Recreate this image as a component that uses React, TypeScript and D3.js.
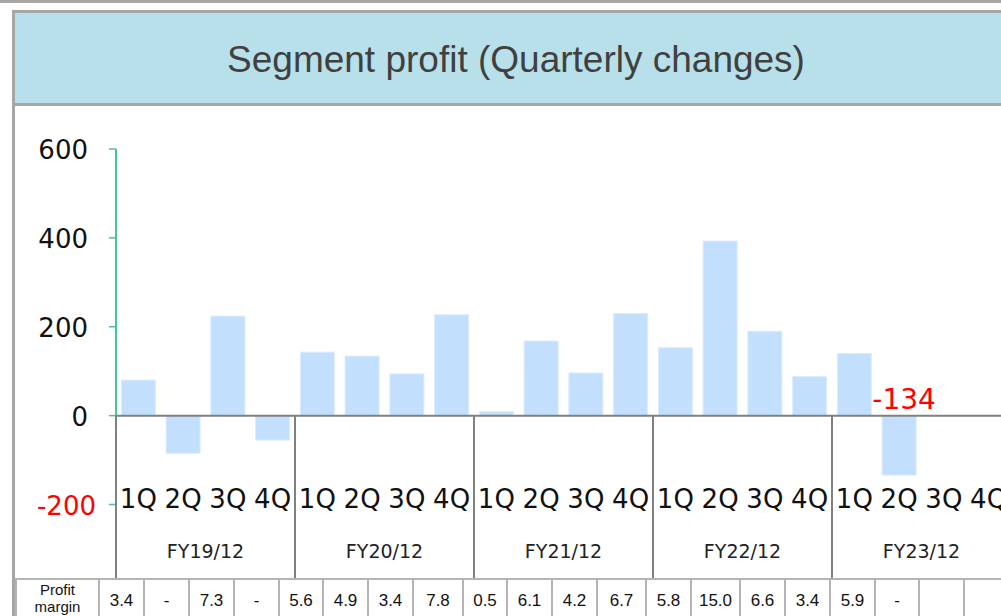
import React from "react";
import * as d3 from "d3";

// ---- data ----
const fiscalYears = ["FY19/12", "FY20/12", "FY21/12", "FY22/12", "FY23/12"];
const quarters = ["1Q", "2Q", "3Q", "4Q"];
const fy19 = [80, -85, 224, -55];
const fy20 = [143, 134, 94, 227];
const fy21 = [9, 168, 96, 230];
const fy22 = [153, 393, 190, 88];
const fy23 = [140, -134, null, null];
const seriesByYear = [fy19, fy20, fy21, fy22, fy23];
const yTicks = [600, 400, 200, 0, -200];
const marginLabel = ["Profit", "margin"];
const profitMargins = ["3.4", "-", "7.3", "-", "5.6", "4.9", "3.4", "7.8", "0.5", "6.1", "4.2", "6.7", "5.8", "15.0", "6.6", "3.4", "5.9", "-", "", ""];
const callout = { year: "FY23/12", quarter: "2Q", value: -134 };

// ---- layout ----
const W = 1001;
const H = 616;
const plotLeft = 116;
const groupW = 179;
const yTop = 149;
const yBottom = 504.5;
const tableTop = 578;
const tableColWidths = [83, 45, 45, 45, 45, 44, 45, 45, 50, 44, 45, 45, 49, 45, 49, 45, 45, 45, 44, 45, 45];
const tableLeft = 16;

const GRAY = "#a6a6a6";
const DARK_GRAY = "#808080";
const TEAL = "#46c3a0";
const BAR = "#c2e0fd";

export default function App() {
  const keys: string[] = [];
  const rows: { key: string; year: string; q: string; v: number | null }[] = [];
  fiscalYears.forEach((fy, i) => {
    quarters.forEach((q, j) => {
      const key = fy + "|" + q;
      keys.push(key);
      rows.push({ key, year: fy, q, v: seriesByYear[i][j] });
    });
  });

  const x = d3
    .scaleBand<string>()
    .domain(keys)
    .range([plotLeft, plotLeft + groupW * fiscalYears.length])
    .paddingInner(0.24)
    .paddingOuter(0.12);
  const yearX = d3
    .scaleBand<string>()
    .domain(fiscalYears)
    .range([plotLeft, plotLeft + groupW * fiscalYears.length]);
  const y = d3.scaleLinear().domain([-200, 600]).range([yBottom, yTop]);

  const cumul: number[] = [tableLeft];
  tableColWidths.forEach((w) => cumul.push(cumul[cumul.length - 1] + w));

  const y0 = y(0);
  const calloutRow = rows.find((r) => r.year === callout.year && r.q === callout.quarter)!;

  return (
    <div style={{ position: "fixed", left: 0, top: 0, width: W, height: H, overflow: "hidden", background: "#fff" }}>
      <svg width={W} height={H} style={{ display: "block" }}>
        <rect x={0} y={0} width={W} height={H} fill="#fff" />
        {/* top band */}
        <rect x={0} y={0} width={W} height={3} fill={GRAY} />
        {/* title box */}
        <rect x={13.5} y={11.5} width={W + 20} height={93} fill="#b8e0ea" stroke={GRAY} strokeWidth={3} />
        <text
          x={516}
          y={72}
          textAnchor="middle"
          fontFamily="'Liberation Sans', Arial, sans-serif"
          fontSize={37}
          fill="#404040"
        >
          Segment profit (Quarterly changes)
        </text>
        {/* left outer border */}
        <line x1={13.5} x2={13.5} y1={104} y2={H} stroke={GRAY} strokeWidth={3} />

        {/* bars */}
        {rows
          .filter((r) => r.v !== null)
          .map((r) => {
            const v = r.v as number;
            const top = Math.min(y(v), y0);
            const h = Math.abs(y(v) - y0);
            return (
              <rect
                key={r.key}
                x={x(r.key)!}
                y={top}
                width={x.bandwidth()}
                height={h}
                fill={BAR}
                stroke="#dcecfe"
                strokeWidth={1}
              />
            );
          })}

        {/* y axis */}
        <line x1={plotLeft} x2={plotLeft} y1={y(600)} y2={y(-200)} stroke={TEAL} strokeWidth={2} />
        {yTicks.map((t) => (
          <g key={t}>
            <line x1={plotLeft - 7} x2={plotLeft} y1={y(t)} y2={y(t)} stroke={TEAL} strokeWidth={1.5} />
            <text
              x={t < 0 ? 96 : 88}
              y={y(t) + 10}
              textAnchor="end"
              fontFamily="'DejaVu Sans', Verdana, sans-serif"
              fontSize={26}
              fill={t < 0 ? "#ff0000" : "#111"}
            >
              {t}
            </text>
          </g>
        ))}

        {/* zero line */}
        <line x1={plotLeft} x2={W} y1={y0} y2={y0} stroke={DARK_GRAY} strokeWidth={2} />
        {/* category separators */}
        {fiscalYears.map((fy) => (
          <line
            key={fy}
            x1={yearX(fy)!}
            x2={yearX(fy)!}
            y1={y0}
            y2={tableTop}
            stroke={DARK_GRAY}
            strokeWidth={2}
          />
        ))}
        {/* quarter labels */}
        {rows.map((r) => (
          <text
            key={"q" + r.key}
            x={x(r.key)! + x.bandwidth() / 2}
            y={508}
            textAnchor="middle"
            fontFamily="'DejaVu Sans', Verdana, sans-serif"
            fontSize={26}
            fill="#111"
          >
            {r.q}
          </text>
        ))}
        {/* year labels */}
        {fiscalYears.map((fy) => (
          <text
            key={"y" + fy}
            x={yearX(fy)! + yearX.bandwidth() / 2}
            y={557.5}
            textAnchor="middle"
            fontFamily="'DejaVu Sans', Verdana, sans-serif"
            fontSize={19}
            fill="#222"
          >
            {fy}
          </text>
        ))}

        {/* callout */}
        <text
          x={x(calloutRow.key)! + x.bandwidth() / 2 + 5}
          y={408.5}
          textAnchor="middle"
          fontFamily="'DejaVu Sans', Verdana, sans-serif"
          fontSize={28}
          fill="#ff0000"
        >
          {callout.value}
        </text>

        {/* table */}
        <line x1={tableLeft} x2={W} y1={tableTop + 1} y2={tableTop + 1} stroke="#b4b4b4" strokeWidth={2} />
        {cumul.map((cx, i) => (
          <line key={"c" + i} x1={cx} x2={cx} y1={tableTop} y2={H} stroke="#b4b4b4" strokeWidth={2} />
        ))}
        <text
          x={(cumul[0] + cumul[1]) / 2}
          y={595}
          textAnchor="middle"
          fontFamily="'Liberation Sans', Arial, sans-serif"
          fontSize={15}
          fill="#111"
        >
          {marginLabel[0]}
        </text>
        <text
          x={(cumul[0] + cumul[1]) / 2}
          y={612}
          textAnchor="middle"
          fontFamily="'Liberation Sans', Arial, sans-serif"
          fontSize={15}
          fill="#111"
        >
          {marginLabel[1]}
        </text>
        {profitMargins.map((m, i) => (
          <text
            key={"m" + i}
            x={(cumul[i + 1] + cumul[i + 2]) / 2}
            y={606}
            textAnchor="middle"
            fontFamily="'Liberation Sans', Arial, sans-serif"
            fontSize={17}
            fill="#111"
          >
            {m}
          </text>
        ))}
      </svg>
    </div>
  );
}
